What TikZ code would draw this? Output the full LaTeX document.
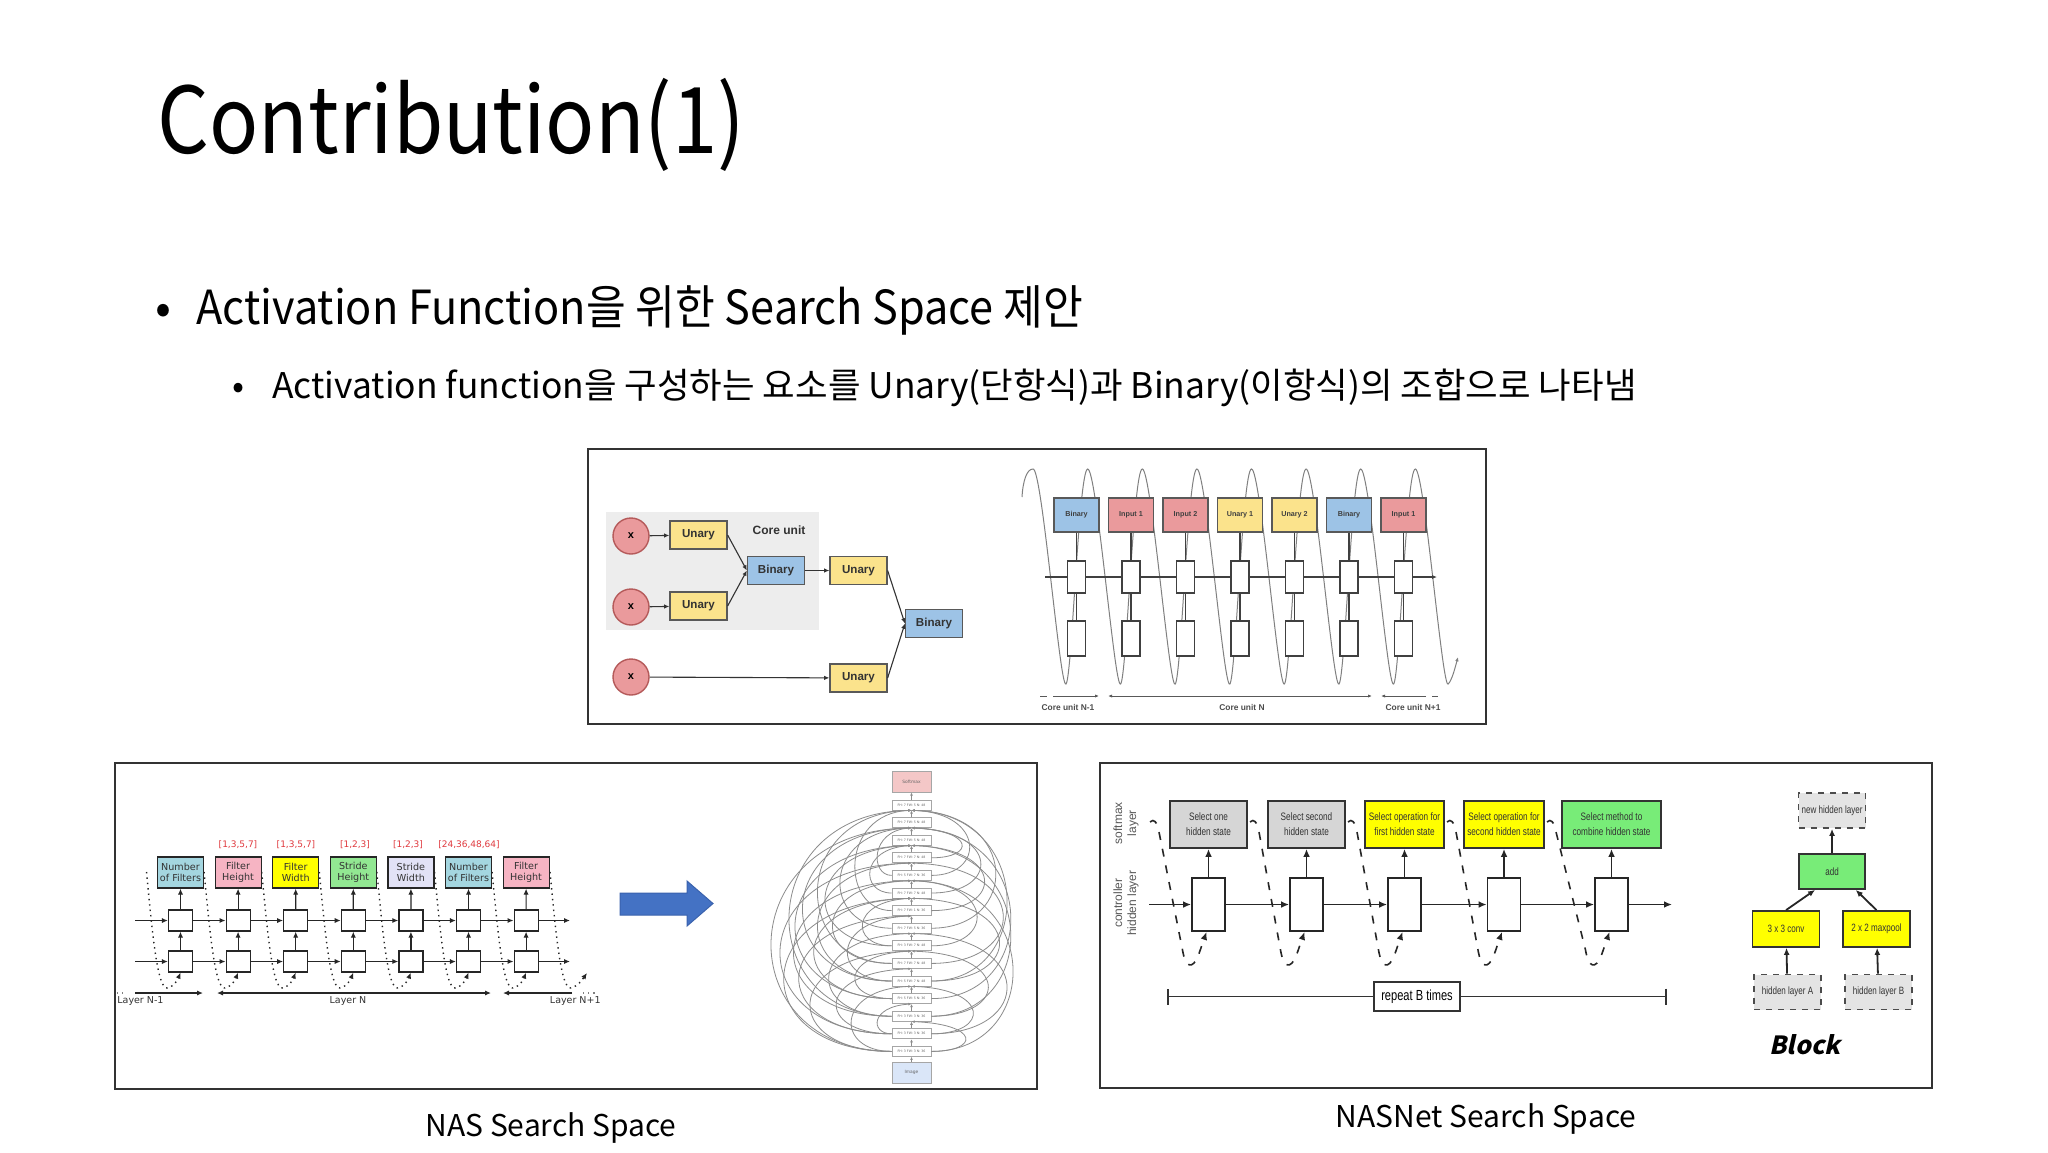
\documentclass[tikz,border=0pt]{standalone}
\usepackage{fontspec}
\setmainfont{Noto Sans CJK KR}
\newfontfamily\ttlfont[FakeStretch=0.885]{Noto Sans CJK KR}
\newfontfamily\bafont[FakeStretch=0.92]{Noto Sans CJK KR}
\newfontfamily\lsans{Liberation Sans}
\newfontfamily\nsans[FakeStretch=0.76]{Liberation Sans}
\newfontfamily\dvsans{DejaVu Sans}
\newfontfamily\blockfont[FakeSlant=0.22,BoldFeatures={FakeSlant=0.22}]{Noto Sans CJK KR}
\usetikzlibrary{arrows.meta,calc}
\definecolor{uyel}{HTML}{FBE38C}
\definecolor{bblue}{HTML}{9DC3E6}
\definecolor{xpink}{HTML}{EA9A9C}
\definecolor{xbord}{HTML}{B55A5A}
\definecolor{coregray}{HTML}{EDEDED}
\definecolor{nteal}{HTML}{A4D6E0}
\definecolor{npink}{HTML}{F6B4C3}
\definecolor{nyel}{HTML}{FFFF00}
\definecolor{ngreen}{HTML}{92E892}
\definecolor{nlav}{HTML}{E2E2F6}
\definecolor{nred}{HTML}{E0393E}
\definecolor{arrblue}{HTML}{4472C4}
\definecolor{arrbord}{HTML}{3A62AD}
\definecolor{smpink}{HTML}{F4C7C7}
\definecolor{imblue}{HTML}{DAE6F8}
\definecolor{sgray}{HTML}{D6D6D6}
\definecolor{syel}{HTML}{FFFF00}
\definecolor{sgreen}{HTML}{78EC78}
\definecolor{lgray}{HTML}{E4E4E4}
\begin{document}
\begin{tikzpicture}[x=0.5pt,y=-0.5pt,
  frame/.style={draw=black!80,line width=1pt},
  tarr/.style={-{Latex[length=2.6pt,width=2.2pt]},line width=0.55pt,draw=black!80},
  xc/.style={circle,draw=xbord,fill=xpink,line width=0.7pt,minimum size=18pt,inner sep=0pt,font=\lsans\bfseries\fontsize{5.5}{6}\selectfont},
  ubox/.style={draw=black!65,fill=uyel,line width=0.6pt,minimum width=28.5pt,minimum height=14pt,inner sep=0pt,font=\lsans\bfseries\fontsize{5.8}{7}\selectfont,text=black!80},
  bbox/.style={ubox,fill=bblue},
  cbox/.style={draw=black!65,line width=0.55pt,minimum width=22.5pt,minimum height=17pt,inner sep=0pt,font=\lsans\bfseries\fontsize{3.6}{4}\selectfont,text=black!75},
  wbox/.style={draw=black!75,fill=white,line width=0.55pt,minimum width=9pt,inner sep=0pt},
  thinline/.style={draw=black!75,line width=0.55pt},
  wavestyle/.style={draw=black!50,line width=0.5pt,-{Latex[length=2.2pt,width=1.8pt]}},
  cutxt/.style={font=\lsans\bfseries\fontsize{4.2}{5}\selectfont,text=black!70,inner sep=0pt},
  smarr/.style={draw=black!65,line width=0.5pt,-{Latex[length=2pt,width=1.6pt]}},
  nlbox/.style={draw=black!85,line width=0.6pt,minimum width=23pt,minimum height=15.5pt,inner sep=0pt,align=center,font=\dvsans\fontsize{4.8}{5.5}\selectfont,text=black!80},
  nrange/.style={font=\dvsans\fontsize{4.5}{5}\selectfont,text=nred,inner sep=0pt},
  nsq/.style={draw=black!85,fill=white,line width=0.6pt,minimum width=12pt,minimum height=10.5pt,inner sep=0pt},
  narr/.style={draw=black!85,line width=0.6pt,-{Latex[length=3pt,width=2.6pt]}},
  dotarr/.style={draw=black!85,line width=0.7pt,dotted,-{Latex[length=3pt,width=2.6pt]}},
  laytxt/.style={font=\dvsans\fontsize{4.75}{5.5}\selectfont,text=black!80,inner sep=0pt},
  gbx/.style={draw=black!35,fill=white,line width=0.35pt,minimum width=19.5pt,minimum height=5pt,inner sep=0pt,font=\dvsans\fontsize{1.6}{2}\selectfont,text=black!60},
  nasloop/.style={draw=black!45,line width=0.4pt,-{Latex[length=1.6pt,width=1.4pt]}},
  sbox/.style={draw=black!80,line width=0.9pt,minimum height=23.5pt,inner sep=0pt,align=center,font=\nsans\fontsize{5.4}{7.6}\selectfont,text=black!80},
  rbox/.style={draw=black!85,fill=white,line width=0.9pt,minimum width=16.5pt,minimum height=26.5pt,inner sep=0pt},
  rarr/.style={draw=black!85,line width=0.9pt,-{Latex[length=4pt,width=3.4pt]}},
  dasharr/.style={draw=black!85,line width=0.8pt,dash pattern=on 4pt off 4.5pt,-{Latex[length=4pt,width=3.4pt]}},
  repbox/.style={draw=black!80,line width=0.8pt,minimum width=43pt,minimum height=14.5pt,inner sep=0pt,font=\nsans\fontsize{7.3}{8}\selectfont},
  dbox/.style={draw=black!70,fill=lgray,dashed,line width=0.9pt,minimum width=33.5pt,minimum height=17.5pt,inner sep=0pt,font=\nsans\fontsize{5.3}{6}\selectfont,text=black!80},
  gnbox/.style={draw=black!80,fill=sgreen,line width=0.9pt,minimum width=33pt,minimum height=17.5pt,inner sep=0pt,font=\nsans\fontsize{5.3}{6}\selectfont,text=black!80},
  ylbox/.style={gnbox,fill=syel,minimum width=33.5pt,minimum height=18pt},
  barr/.style={draw=black!85,line width=0.9pt,-{Latex[length=3.5pt,width=3pt]}}
]
\useasboundingbox (0,0) rectangle (2048,1152);
\fill[white] (0,0) rectangle (2048,1152);

% ---------- title and bullets ----------
\node[anchor=base west,inner sep=0pt,font=\ttlfont\fontsize{46}{52}\selectfont] (title) at (157,153) {Contribution(1)};
\node[anchor=base,inner sep=0pt,font=\fontsize{23.5}{28}\selectfont] (bd1) at (163,324) {•};
\node[anchor=base west,inner sep=0pt,font=\bafont\fontsize{23.5}{28}\selectfont] (b1) at (196,324) {Activation Function을 위한 Search Space 제안};
\node[anchor=base,inner sep=0pt,font=\fontsize{17.7}{21}\selectfont] (bd2) at (239,398) {•};
\node[anchor=base west,inner sep=0pt,font=\fontsize{17.7}{21}\selectfont] (b2) at (272,398) {Activation function을 구성하는 요소를 Unary(단항식)과 Binary(이항식)의 조합으로 나타냄};

% ---------- top figure ----------
\draw[frame] (588,449) rectangle (1486,724);
\fill[coregray] (606,512) rectangle (819,630);
\node[xc] (x1) at (631,536) {x};
\node[xc] (x2) at (631,607) {x};
\node[xc] (x3) at (631,677) {x};
\node[ubox] (u1) at (698.5,535) {Unary};
\node[ubox] (u2) at (698.5,606) {Unary};
\node[bbox] (bn1) at (776,570.5) {Binary};
\node[ubox] (u3) at (858.5,570.5) {Unary};
\node[bbox] (bn2) at (934,623.5) {Binary};
\node[ubox] (u4) at (858.5,678) {Unary};
\node[font=\lsans\bfseries\fontsize{6}{7}\selectfont,text=black!80,inner sep=0pt] (corelab) at (779,530) {Core unit};
\draw[tarr] (x1) -- (u1);
\draw[tarr] (x2) -- (u2);
\draw[tarr] (x3) -- (u4);
\draw[tarr] (u1.east) -- (bn1.west);
\draw[tarr] (u2.east) -- (bn1.west);
\draw[tarr] (bn1) -- (u3);
\draw[tarr] (u3.east) -- (bn2.west);
\draw[tarr] (u4.east) -- (bn2.west);

% wave
\draw[wavestyle] (1022,497) .. controls (1023,480) and (1027,469) .. (1033,469)
  \foreach \i in {0,...,6} {
    .. controls ({1042+54.6*\i},467) and ({1060+54.6*\i},690) .. ({1066+54.6*\i},684)
    .. controls ({1072+54.6*\i},678) and ({1078.6+54.6*\i},471) .. ({1087.6+54.6*\i},469)
  }
  .. controls (1424.2,467) and (1442.2,690) .. (1448.2,684)
  .. controls (1452,680) and (1455,668) .. (1458,657);

\foreach \i/\lab/\col in {0/Binary/bblue,1/Input 1/xpink,2/Input 2/xpink,3/Unary 1/uyel,4/Unary 2/uyel,5/Binary/bblue,6/Input 1/xpink} {
  \pgfmathsetmacro\cx{1076.5+54.5*\i}
  \node[cbox,fill=\col] (tb\i) at (\cx,515) {\lab};
  \node[wbox,minimum height=16pt] (tm\i) at (\cx,577) {};
  \node[wbox,minimum height=17.5pt] (tl\i) at (\cx,638.5) {};
  \draw[thinline] (tb\i) -- (tm\i);
  \draw[thinline] (tm\i) -- (tl\i);
}
\coordinate (hA) at (1045,577);
\coordinate (hB) at (1437,577);
\draw[thinline] (hA) -- (tm0.west);
\foreach \i [count=\j from 1] in {0,...,5} \draw[thinline] (tm\i.east) -- (tm\j.west);
\draw[thinline,-{Latex[length=2.4pt,width=2pt]}] (tm6.east) -- (hB);

\coordinate (c1a) at (1053,696); \coordinate (c1b) at (1099,696);
\coordinate (c2a) at (1108,696); \coordinate (c2b) at (1372,696);
\coordinate (c3a) at (1426,696); \coordinate (c3b) at (1381,696);
\draw[draw=black!65,line width=0.5pt] (1040,696) -- (1047,696);
\draw[smarr] (c1a) -- (c1b);
\draw[smarr,{Latex[length=2pt,width=1.6pt]}-{Latex[length=2pt,width=1.6pt]}] (c2a) -- (c2b);
\draw[smarr] (c3a) -- (c3b);
\draw[draw=black!65,line width=0.5pt] (1432,696) -- (1438,696);
\node[cutxt] (cu1) at (1068,707) {Core unit N-1};
\node[cutxt] (cu2) at (1242,707) {Core unit N};
\node[cutxt] (cu3) at (1413,707) {Core unit N+1};

% ---------- bottom-left figure ----------
\draw[frame] (115,763) rectangle (1037,1089);
\node[nlbox,fill=nteal] (n0) at (180.5,872.5) {Number\\of Filters};
\node[nlbox,fill=npink] (n1) at (238.1,872.5) {Filter\\Height};
\node[nlbox,fill=nyel] (n2) at (295.7,872.5) {Filter\\Width};
\node[nlbox,fill=ngreen] (n3) at (353.3,872.5) {Stride\\Height};
\node[nlbox,fill=nlav] (n4) at (410.9,872.5) {Stride\\Width};
\node[nlbox,fill=nteal] (n5) at (468.5,872.5) {Number\\of Filters};
\node[nlbox,fill=npink] (n6) at (526.1,872.5) {Filter\\Height};
\node[nrange] (r1) at (238,845) {[1,3,5,7]};
\node[nrange] (r2) at (296,845) {[1,3,5,7]};
\node[nrange] (r3) at (355,845) {[1,2,3]};
\node[nrange] (r4) at (408,845) {[1,2,3]};
\node[nrange] (r5) at (469,845) {[24,36,48,64]};
\foreach \i in {0,...,6} {
  \pgfmathsetmacro\cx{180.5+57.6*\i}
  \node[nsq] (m\i) at (\cx,920.5) {};
  \node[nsq] (l\i) at (\cx,961.5) {};
  \draw[narr] (l\i) -- (m\i);
  \draw[narr] (m\i) -- (n\i);
  \coordinate (ds\i) at ({\cx-34},872);
  \draw[dotarr] (ds\i) .. controls ({\cx-28},935) and ({\cx-23},990) .. ({\cx-13},988) .. controls ({\cx-6},986) and ({\cx-3},980) .. (l\i.south);
}
\coordinate (ds7) at (550,872);
\coordinate (de7) at (587,973);
\draw[dotarr] (ds7) .. controls (556,935) and (561,990) .. (571,988) .. controls (578,986) and (582,980) .. (de7);
\coordinate (ra) at (135,920.5); \coordinate (rb) at (570,920.5);
\coordinate (rc) at (135,961.5); \coordinate (rd) at (570,961.5);
\draw[narr] (ra) -- (m0);
\draw[narr] (rc) -- (l0);
\foreach \i [count=\j from 1] in {0,...,5} {
  \draw[narr] (m\i) -- (m\j);
  \draw[narr] (l\i) -- (l\j);
}
\draw[narr] (m6) -- (rb);
\draw[narr] (l6) -- (rd);
\draw[draw=black!50,line width=0.6pt,dotted] (117,993) -- (127,993);
\coordinate (la1) at (135,993); \coordinate (la2) at (203,993);
\coordinate (lb1) at (217,993); \coordinate (lb2) at (491,993);
\coordinate (lc1) at (572,993); \coordinate (lc2) at (503,993);
\draw[narr] (la1) -- (la2);
\draw[narr,{Latex[length=3pt,width=2.6pt]}-{Latex[length=3pt,width=2.6pt]}] (lb1) -- (lb2);
\draw[narr] (lc1) -- (lc2);
\draw[draw=black!50,line width=0.6pt,dotted] (583,993) -- (596,993);
\node[laytxt,anchor=west] (ly1) at (117,1001) {Layer N-1};
\node[laytxt] (ly2) at (348,1001) {Layer N};
\node[laytxt,anchor=east] (ly3) at (601,1001) {Layer N+1};

% blue arrow
\filldraw[fill=arrblue,draw=arrbord,line width=0.5pt] (620,893) -- (687,893) -- (687,881) -- (713,903.5) -- (687,926) -- (687,915) -- (620,915) -- cycle;

% NAS graph
\node[gbx,fill=smpink,minimum height=10.5pt,font=\dvsans\fontsize{2.2}{3}\selectfont] (gsm) at (911.5,781.5) {Softmax};
\foreach \k/\t in {0/FH: 7 FW: 5 N: 48,1/FH: 7 FW: 5 N: 48,2/FH: 7 FW: 5 N: 48,3/FH: 7 FW: 7 N: 48,4/FH: 5 FW: 7 N: 36,5/FH: 7 FW: 7 N: 48,6/FH: 7 FW: 1 N: 36,7/FH: 7 FW: 5 N: 36,8/FH: 3 FW: 7 N: 48,9/FH: 7 FW: 7 N: 48,10/FH: 5 FW: 7 N: 48,11/FH: 5 FW: 5 N: 36,12/FH: 3 FW: 3 N: 36,13/FH: 3 FW: 3 N: 36,14/FH: 3 FW: 3 N: 36} {
  \node[gbx] (g\k) at (911.5,{805+17.6*\k}) {\t};
}
\node[gbx,fill=imblue,minimum height=10.5pt,font=\dvsans\fontsize{2.2}{3}\selectfont] (gim) at (911.5,1072.5) {Image};
\draw[nasloop] (g0) -- (gsm);
\foreach \k [count=\j from 1] in {0,...,13} \draw[nasloop] (g\j) -- (g\k);
\draw[nasloop] (gim) -- (g14);
\foreach \s/\d/\c in {14/1/728,13/3/740,12/0/752,14/5/745,11/2/760,10/1/770,13/6/765,12/4/758,9/0/790,14/8/780,11/5/785,10/3/790,8/2/800,13/9/815,12/7/805,9/4/810,7/1/820,14/10/835,6/0/840,11/8/840,10/6/830,8/5/850,5/2/860,13/11/870,4/1/870} {
  \draw[nasloop] (g\s.west) .. controls (\c,{805+17.6*\s}) and (\c,{805+17.6*\d+8}) .. (g\d.south);
}
\foreach \s/\d/\c in {12/2/1040,10/0/1035,14/4/1043,9/3/1030,11/1/1040,13/7/1035,7/0/1020,6/2/1005,12/8/1010,5/1/1000,10/5/1025,13/10/990,8/4/995,4/0/985,3/1/975,14/12/980} {
  \draw[nasloop] (g\s.east) .. controls (\c,{805+17.6*\s}) and (\c,{805+17.6*\d+8}) .. (g\d.south);
}

% ---------- bottom-right figure ----------
\draw[frame] (1100,763) rectangle (1932,1088);
\node[rotate=90,align=center,inner sep=0pt,font=\lsans\fontsize{6}{7}\selectfont,text=black!65] (smlab) at (1126,823) {softmax\\layer};
\node[rotate=90,align=center,inner sep=0pt,font=\lsans\fontsize{6}{7}\selectfont,text=black!65] (chlab) at (1126,903) {controller\\hidden layer};
\node[sbox,fill=sgray,minimum width=38.5pt] (s0) at (1208.5,824.5) {Select one\\hidden state};
\node[sbox,fill=sgray,minimum width=38.5pt] (s1) at (1306.5,824.5) {Select second\\hidden state};
\node[sbox,fill=syel,minimum width=39.5pt] (s2) at (1404.5,824.5) {Select operation for\\first hidden state};
\node[sbox,fill=syel,minimum width=40pt] (s3) at (1504,824.5) {Select operation for\\second hidden state};
\node[sbox,fill=sgreen,minimum width=49.5pt] (s4) at (1611.5,824.5) {Select method to\\combine hidden state};
\foreach \i/\xr/\sx in {0/1208.5/1150,1/1306.5/1250,2/1404.5/1348,3/1504/1447,4/1611.5/1547} {
  \node[rbox] (rr\i) at (\xr,904.5) {};
  \draw[rarr] (rr\i) -- (s\i);
  \coordinate (dd\i) at (\sx,822);
  \draw[dasharr] (dd\i) .. controls ({\sx+4},818) and ({\sx+7},822) .. ({\sx+9},832) -- ({\xr-26},950) .. controls ({\xr-23},968) and ({\xr-16},970) .. ({\xr-10},955) -- ([xshift=-1pt]rr\i.south);
}
\coordinate (rin) at (1149,904.5);
\coordinate (rout) at (1672,904.5);
\draw[rarr] (rin) -- (rr0);
\foreach \i [count=\j from 1] in {0,...,3} \draw[rarr] (rr\i) -- (rr\j);
\draw[rarr] (rr4) -- (rout);
\node[repbox] (rep) at (1417,996.5) {repeat B times};
\coordinate (repL) at (1167,996.5);
\coordinate (repR) at (1667,996.5);
\draw[draw=black!80,line width=0.9pt,{Bar[width=8pt]}-] (repL) -- (rep.west);
\draw[draw=black!80,line width=0.9pt,-{Bar[width=8pt]}] (rep.east) -- (repR);

% block
\node[dbox] (nh) at (1832,810.5) {new hidden layer};
\node[gnbox] (add) at (1832,871.5) {add};
\node[ylbox] (cv) at (1786,929) {3 x 3 conv};
\node[ylbox] (mp) at (1876.5,929) {2 x 2 maxpool};
\node[dbox] (ha) at (1787.5,992) {hidden layer A};
\node[dbox] (hb) at (1878.5,992) {hidden layer B};
\draw[barr] (add) -- (nh);
\draw[barr] (cv.north) -- ($(add.south west)!0.25!(add.south east)$);
\draw[barr] (mp.north) -- ($(add.south west)!0.85!(add.south east)$);
\draw[barr] (ha) -- (cv);
\draw[barr] (hb) -- (mp);
\node[inner sep=0pt,font=\blockfont\bfseries\fontsize{12.5}{14}\selectfont] (blk) at (1805,1045) {Block};

% captions
\node[anchor=base,inner sep=0pt,font=\fontsize{15}{18}\selectfont] (cap1) at (551,1136) {NAS Search Space};
\node[anchor=base,inner sep=0pt,font=\fontsize{15}{18}\selectfont] (cap2) at (1486,1127) {NASNet Search Space};
\end{tikzpicture}
\end{document}
